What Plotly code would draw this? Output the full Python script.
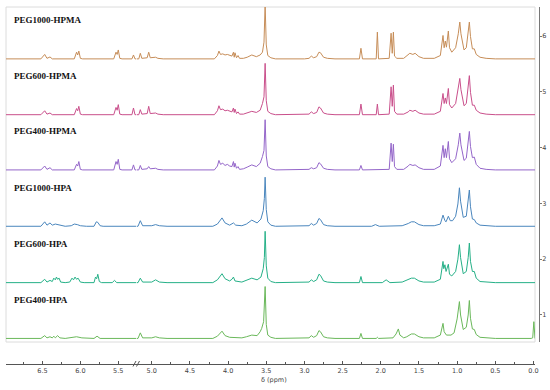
import plotly.graph_objects as go

# ---------------- data (ppm, intensity above each baseline) ----------------
labels = ["PEG1000-HPMA", "PEG600-HPMA", "PEG400-HPMA",
          "PEG1000-HPA", "PEG600-HPA", "PEG400-HPA"]
offsets = [5.59, 4.59, 3.60, 2.59, 1.58, 0.58]
right_ticks = [1, 2, 3, 4, 5, 6]

PEG1000_HPMA = [
    (6.98, 0), (6.52, 0), (6.47, 0.08), (6.44, 0.01), (6.40, 0.035), (6.37, 0),
    (6.08, 0), (6.05, 0.12), (6.035, 0.07), (6.02, 0.14), (6.00, 0.01), (5.97, 0),
    (5.56, 0), (5.53, 0.12), (5.515, 0.08), (5.50, 0.16), (5.48, 0.01), (5.45, 0),
    (5.32, 0), (5.30, 0.07), (5.28, 0), (5.265, 0),
    (5.2, 0), (5.17, 0), (5.15, 0.1), (5.13, 0.01), (5.06, 0.02), (5.04, 0.12), (5.02, 0.02),
    (4.97, 0.02), (4.95, 0.03), (4.92, 0.01), (4.85, 0),
    (4.18, 0), (4.14, 0.06), (4.12, 0.14), (4.10, 0.08), (4.07, 0.09), (4.04, 0.07), (4.01, 0.08),
    (3.98, 0.06), (3.95, 0.05), (3.93, 0.12), (3.92, 0.03), (3.91, 0.11), (3.89, 0.02),
    (3.87, 0.06), (3.85, 0.01), (3.80, 0.01),
    (3.75, 0.03), (3.69, 0.07), (3.63, 0.04), (3.58, 0.07), (3.55, 0.12), (3.53, 0.3),
    (3.515, 0.97), (3.50, 0.25), (3.48, 0.06), (3.44, 0.02), (3.38, 0),
    (3.0, 0), (2.94, 0.01), (2.91, 0.05), (2.88, 0.02), (2.84, 0.04), (2.81, 0.12), (2.79, 0.11),
    (2.75, 0.03), (2.70, 0.01), (2.6, 0),
    (2.28, 0), (2.26, 0.19), (2.24, 0),
    (2.06, 0), (2.045, 0.48), (2.03, 0),
    (1.89, 0.01), (1.865, 0.46), (1.85, 0.1), (1.835, 0.48), (1.82, 0.05), (1.79, 0.01),
    (1.70, 0.01), (1.64, 0.07), (1.62, 0.1), (1.58, 0.08), (1.55, 0.1), (1.50, 0.04), (1.44, 0.01),
    (1.30, 0.01), (1.22, 0.06), (1.185, 0.42), (1.17, 0.2), (1.155, 0.32), (1.14, 0.21),
    (1.115, 0.5), (1.10, 0.2), (1.07, 0.12), (1.02, 0.2), (0.985, 0.45), (0.965, 0.66),
    (0.95, 0.45), (0.91, 0.16), (0.88, 0.2), (0.855, 0.45), (0.84, 0.66), (0.825, 0.4),
    (0.80, 0.18), (0.775, 0.18), (0.75, 0.08), (0.70, 0.03), (0.62, 0.01), (0.5, 0), (-0.02, 0),
]

PEG600_HPMA = [
    (6.98, 0), (6.52, 0), (6.47, 0.07), (6.44, 0.01), (6.40, 0.03), (6.37, 0),
    (6.08, 0), (6.05, 0.11), (6.035, 0.07), (6.02, 0.15), (6.00, 0.01), (5.97, 0),
    (5.56, 0), (5.53, 0.13), (5.515, 0.08), (5.50, 0.18), (5.48, 0.01), (5.45, 0),
    (5.32, 0), (5.30, 0.12), (5.28, 0), (5.265, 0),
    (5.2, 0), (5.17, 0), (5.15, 0.09), (5.13, 0.01), (5.06, 0.02), (5.04, 0.15), (5.02, 0.02),
    (4.97, 0.02), (4.95, 0.03), (4.92, 0.01), (4.85, 0),
    (4.18, 0), (4.14, 0.07), (4.12, 0.16), (4.10, 0.09), (4.07, 0.1), (4.04, 0.07), (4.01, 0.08),
    (3.98, 0.06), (3.95, 0.05), (3.93, 0.12), (3.92, 0.04), (3.91, 0.1), (3.89, 0.02),
    (3.87, 0.05), (3.85, 0.01), (3.80, 0.01),
    (3.75, 0.03), (3.69, 0.06), (3.63, 0.04), (3.58, 0.08), (3.55, 0.2), (3.53, 0.32),
    (3.515, 0.92), (3.50, 0.25), (3.48, 0.06), (3.44, 0.02), (3.38, 0),
    (3.0, 0), (2.94, 0.01), (2.91, 0.05), (2.88, 0.02), (2.84, 0.04), (2.81, 0.14), (2.79, 0.12),
    (2.75, 0.03), (2.70, 0.01), (2.6, 0),
    (2.28, 0), (2.26, 0.19), (2.24, 0),
    (2.06, 0), (2.045, 0.19), (2.03, 0),
    (1.89, 0.01), (1.865, 0.5), (1.85, 0.15), (1.835, 0.53), (1.82, 0.06), (1.79, 0.01),
    (1.70, 0.01), (1.64, 0.05), (1.62, 0.08), (1.58, 0.06), (1.55, 0.08), (1.50, 0.03), (1.44, 0.01),
    (1.30, 0.01), (1.22, 0.06), (1.185, 0.38), (1.17, 0.2), (1.155, 0.3), (1.14, 0.2),
    (1.115, 0.47), (1.10, 0.18), (1.07, 0.12), (1.02, 0.2), (0.985, 0.45), (0.965, 0.65),
    (0.95, 0.45), (0.91, 0.16), (0.88, 0.2), (0.855, 0.48), (0.84, 0.70), (0.825, 0.4),
    (0.80, 0.17), (0.775, 0.17), (0.75, 0.08), (0.70, 0.03), (0.62, 0.01), (0.5, 0), (-0.02, 0),
]

PEG400_HPMA = [
    (6.98, 0), (6.52, 0), (6.47, 0.07), (6.44, 0.01), (6.40, 0.04), (6.37, 0),
    (6.08, 0), (6.05, 0.1), (6.035, 0.07), (6.02, 0.15), (6.00, 0.01), (5.97, 0),
    (5.56, 0), (5.53, 0.15), (5.515, 0.1), (5.50, 0.19), (5.48, 0.01), (5.45, 0),
    (5.32, 0), (5.30, 0.09), (5.28, 0), (5.265, 0),
    (5.2, 0), (5.17, 0), (5.15, 0.08), (5.13, 0.01), (5.06, 0.02), (5.04, 0.06), (5.02, 0.02),
    (4.97, 0.02), (4.95, 0.03), (4.92, 0.01), (4.85, 0),
    (4.18, 0), (4.14, 0.07), (4.12, 0.17), (4.10, 0.1), (4.07, 0.12), (4.04, 0.08), (4.01, 0.1),
    (3.98, 0.07), (3.95, 0.06), (3.93, 0.15), (3.92, 0.05), (3.91, 0.12), (3.89, 0.03),
    (3.87, 0.06), (3.85, 0.01), (3.80, 0.02),
    (3.75, 0.05), (3.69, 0.09), (3.63, 0.06), (3.58, 0.12), (3.55, 0.24), (3.53, 0.35),
    (3.515, 0.9), (3.50, 0.25), (3.48, 0.06), (3.44, 0.02), (3.38, 0),
    (3.0, 0), (2.94, 0.01), (2.91, 0.04), (2.88, 0.02), (2.84, 0.04), (2.81, 0.13), (2.79, 0.11),
    (2.75, 0.03), (2.70, 0.01), (2.6, 0),
    (2.28, 0), (2.26, 0.08), (2.24, 0),
    (1.89, 0.01), (1.865, 0.48), (1.85, 0.15), (1.835, 0.46), (1.82, 0.06), (1.79, 0.01),
    (1.70, 0.01), (1.64, 0.07), (1.62, 0.1), (1.58, 0.08), (1.55, 0.09), (1.50, 0.04), (1.44, 0.01),
    (1.30, 0.01), (1.22, 0.07), (1.185, 0.44), (1.17, 0.22), (1.155, 0.38), (1.14, 0.22),
    (1.115, 0.51), (1.10, 0.2), (1.07, 0.13), (1.02, 0.2), (0.985, 0.45), (0.965, 0.66),
    (0.95, 0.45), (0.91, 0.17), (0.88, 0.21), (0.855, 0.48), (0.84, 0.69), (0.825, 0.42),
    (0.80, 0.22), (0.775, 0.23), (0.75, 0.1), (0.70, 0.03), (0.62, 0.01), (0.5, 0), (-0.02, 0),
]

PEG1000_HPA = [
    (6.98, 0), (6.52, 0), (6.47, 0.08), (6.44, 0.02), (6.40, 0.06), (6.37, 0.02), (6.33, 0.04),
    (6.30, 0.03), (6.26, 0.01), (6.2, 0),
    (6.12, 0.01), (6.08, 0.04), (6.04, 0.03), (6.0, 0.01), (5.92, 0),
    (5.82, 0), (5.79, 0.08), (5.77, 0.07), (5.74, 0.01), (5.7, 0), (5.265, 0),
    (5.2, 0), (5.18, 0), (5.15, 0.1), (5.12, 0.01), (5.0, 0.01), (4.95, 0.03), (4.9, 0.01), (4.8, 0),
    (4.2, 0), (4.14, 0.04), (4.08, 0.15), (4.04, 0.06), (3.98, 0.02), (3.93, 0.06), (3.90, 0.02),
    (3.82, 0.01),
    (3.76, 0.04), (3.69, 0.11), (3.62, 0.06), (3.57, 0.13), (3.54, 0.28), (3.525, 0.5),
    (3.515, 0.88), (3.50, 0.3), (3.48, 0.08), (3.44, 0.02), (3.38, 0),
    (3.0, 0), (2.94, 0.01), (2.91, 0.05), (2.88, 0.02), (2.84, 0.05), (2.81, 0.14), (2.79, 0.12),
    (2.75, 0.03), (2.70, 0.01), (2.6, 0),
    (2.12, 0), (2.07, 0.03), (2.02, 0),
    (1.72, 0.01), (1.64, 0.05), (1.60, 0.08), (1.56, 0.08), (1.50, 0.03), (1.44, 0.01),
    (1.30, 0.01), (1.22, 0.04), (1.185, 0.2), (1.16, 0.1), (1.145, 0.08), (1.115, 0.18),
    (1.09, 0.1), (1.06, 0.1), (1.02, 0.18), (0.99, 0.4), (0.97, 0.69), (0.955, 0.45),
    (0.92, 0.16), (0.88, 0.18), (0.855, 0.42), (0.84, 0.65), (0.825, 0.35), (0.80, 0.13),
    (0.775, 0.12), (0.75, 0.06), (0.70, 0.02), (0.62, 0.01), (0.5, 0), (-0.02, 0),
]

PEG600_HPA = [
    (6.98, 0), (6.52, 0), (6.47, 0.06), (6.44, 0.01), (6.40, 0.04), (6.37, 0.02), (6.35, 0.08),
    (6.33, 0.05), (6.315, 0.1), (6.30, 0.06), (6.28, 0.08), (6.26, 0.01), (6.2, 0),
    (6.14, 0.01), (6.11, 0.08), (6.09, 0.05), (6.07, 0.1), (6.05, 0.06), (6.03, 0.08),
    (6.0, 0.01), (5.95, 0),
    (5.82, 0), (5.80, 0.1), (5.785, 0.07), (5.77, 0.15), (5.75, 0.02), (5.72, 0),
    (5.58, 0), (5.55, 0.04), (5.52, 0), (5.265, 0),
    (5.2, 0), (5.18, 0), (5.15, 0.08), (5.12, 0.01), (5.0, 0.01), (4.95, 0.05), (4.9, 0.01), (4.8, 0),
    (4.2, 0), (4.14, 0.05), (4.08, 0.16), (4.04, 0.07), (3.98, 0.03), (3.95, 0.06), (3.93, 0.1),
    (3.91, 0.03), (3.82, 0.01),
    (3.76, 0.04), (3.69, 0.08), (3.62, 0.05), (3.57, 0.1), (3.54, 0.25), (3.525, 0.45),
    (3.515, 0.92), (3.50, 0.3), (3.48, 0.08), (3.44, 0.02), (3.38, 0),
    (3.0, 0), (2.94, 0.01), (2.91, 0.05), (2.88, 0.02), (2.84, 0.05), (2.81, 0.15), (2.79, 0.13),
    (2.75, 0.03), (2.70, 0.01), (2.6, 0),
    (2.28, 0), (2.26, 0.11), (2.24, 0),
    (1.98, 0), (1.93, 0.05), (1.88, 0),
    (1.72, 0.01), (1.64, 0.06), (1.60, 0.08), (1.56, 0.08), (1.50, 0.03), (1.44, 0.01),
    (1.30, 0.01), (1.22, 0.06), (1.185, 0.38), (1.175, 0.25), (1.16, 0.32), (1.145, 0.2),
    (1.115, 0.33), (1.10, 0.15), (1.07, 0.12), (1.02, 0.2), (0.99, 0.42), (0.97, 0.68),
    (0.955, 0.45), (0.92, 0.16), (0.88, 0.2), (0.855, 0.45), (0.84, 0.71), (0.825, 0.38),
    (0.80, 0.2), (0.775, 0.2), (0.75, 0.08), (0.70, 0.02), (0.62, 0.01), (0.5, 0), (-0.02, 0),
]

PEG400_HPA = [
    (6.98, 0), (6.52, 0), (6.47, 0.05), (6.44, 0.01), (6.40, 0.03), (6.37, 0.01), (6.35, 0.04),
    (6.33, 0.01), (6.30, 0.05), (6.27, 0.01), (6.2, 0),
    (6.12, 0.01), (6.05, 0.03), (5.98, 0.01), (5.9, 0),
    (5.82, 0), (5.78, 0.04), (5.74, 0), (5.265, 0),
    (5.2, 0), (5.18, 0), (5.15, 0.1), (5.12, 0.01), (5.0, 0.01), (4.95, 0.03), (4.9, 0.01), (4.8, 0),
    (4.2, 0), (4.14, 0.04), (4.08, 0.13), (4.04, 0.05), (3.98, 0.02), (3.90, 0.01), (3.82, 0.01),
    (3.76, 0.03), (3.69, 0.06), (3.62, 0.05), (3.58, 0.12), (3.56, 0.18), (3.535, 0.3),
    (3.515, 0.93), (3.50, 0.25), (3.48, 0.06), (3.44, 0.02), (3.38, 0),
    (3.0, 0), (2.94, 0.01), (2.91, 0.05), (2.88, 0.02), (2.84, 0.05), (2.81, 0.14), (2.79, 0.12),
    (2.75, 0.03), (2.70, 0.01), (2.6, 0),
    (2.28, 0), (2.26, 0.09), (2.24, 0),
    (2.06, 0), (2.045, 0.02), (2.03, 0),
    (1.84, 0.01), (1.80, 0.08), (1.77, 0.17), (1.75, 0.06), (1.70, 0.01),
    (1.66, 0.03), (1.60, 0.08), (1.56, 0.08), (1.50, 0.03), (1.44, 0.01),
    (1.30, 0.01), (1.22, 0.06), (1.185, 0.27), (1.17, 0.12), (1.14, 0.06), (1.115, 0.06),
    (1.08, 0.06), (1.04, 0.1), (1.00, 0.35), (0.97, 0.66), (0.955, 0.42), (0.92, 0.16),
    (0.88, 0.2), (0.855, 0.42), (0.84, 0.68), (0.825, 0.36), (0.80, 0.17), (0.775, 0.16),
    (0.75, 0.07), (0.70, 0.02), (0.62, 0.01), (0.5, 0), (0.03, 0), (0.01, 0.01),
    (-0.005, 0.3), (-0.012, 0), (-0.02, 0),
]

spectra = [PEG1000_HPMA, PEG600_HPMA, PEG400_HPMA, PEG1000_HPA, PEG600_HPA, PEG400_HPA]
colors = ["#c68d58", "#c94f8b", "#9466c9", "#4a86bd", "#25b087", "#6ab85a"]

# ---------------- figure ----------------
W, H = 550, 390
ML, MR, MT, MB = 6, 11, 7, 26
PW, PH = W - ML - MR, H - MT - MB


def px_x(px):
    return (px - ML) / PW


def px_y(py):
    return (H - MB - py) / PH


BREAK_PX = 136.5
frame_right = px_x(535)
frame_bottom = px_y(342)
LEFT_RANGE = [6.98, 5.26]
RIGHT_RANGE = [5.20, -0.02]

fig = go.Figure()
for spec, off, col in zip(spectra, offsets, colors):
    left = [(p, h) for p, h in spec if p >= LEFT_RANGE[1]]
    right = [(p, h) for p, h in spec if p <= RIGHT_RANGE[0]]
    for pts, xa in ((left, "x"), (right, "x2")):
        fig.add_trace(go.Scatter(
            x=[p for p, _ in pts], y=[h + off for _, h in pts],
            xaxis=xa, yaxis="y", mode="lines",
            line=dict(color=col, width=1), hoverinfo="skip", showlegend=False))

tickfont = dict(family="DejaVu Sans, Verdana, sans-serif", size=6.5, color="#444")
xcommon = dict(anchor="free", position=0, showline=True, linecolor="#555", linewidth=1,
               ticks="inside", ticklen=3, tickcolor="#555", dtick=0.5, tick0=0,
               tickformat=".1f", tickfont=tickfont, showgrid=False, zeroline=False,
               automargin=False, ticklabelstandoff=0,
               minor=dict(dtick=0.25, tick0=0, ticks="inside", ticklen=2, tickcolor="#555",
                          showgrid=False))

fig.update_layout(
    template="none",
    width=W, height=H,
    margin=dict(l=ML, r=MR, t=MT, b=MB, pad=0, autoexpand=False),
    paper_bgcolor="white", plot_bgcolor="white",
    xaxis=dict(domain=[0, px_x(BREAK_PX)], range=LEFT_RANGE, **xcommon),
    xaxis2=dict(domain=[px_x(BREAK_PX), frame_right], range=RIGHT_RANGE, **xcommon),
    yaxis=dict(domain=[frame_bottom, 1], range=[0.516, 6.52], side="right",
               anchor="free", position=1, showline=True, linecolor="#777", linewidth=1,
               ticks="outside", ticklen=2, tickcolor="#777", tickvals=right_ticks,
               tickfont=tickfont, showgrid=False, zeroline=False, automargin=False,
               ticklabelstandoff=-1),
    showlegend=False,
    hovermode=False,
)

# light frame around the stacked spectra
fig.add_shape(type="rect", xref="paper", yref="paper", x0=0, x1=frame_right,
              y0=frame_bottom, y1=1, line=dict(color="#dcdcdc", width=1), layer="below")

# axis break marks
for dx in (0, 3.5):
    fig.add_shape(type="line", xref="paper", yref="paper",
                  x0=px_x(133 + dx), y0=px_y(366.5), x1=px_x(136 + dx), y1=px_y(361),
                  line=dict(color="#555", width=1))

# spectrum labels
for lab, off in zip(labels, offsets):
    fig.add_annotation(x=px_x(12), xref="paper", y=off + 0.69, yref="y",
                       text="<b>" + lab + "</b>", showarrow=False, xanchor="left",
                       yanchor="middle",
                       font=dict(family="Liberation Serif, Times New Roman, serif",
                                 size=9, color="#111"))

# axis title
fig.add_annotation(x=px_x(274), y=px_y(380), xref="paper", yref="paper",
                   text="δ (ppm)", showarrow=False, xanchor="center", yanchor="middle",
                   font=tickfont)

fig.write_html("out.html", config={"displayModeBar": False},
               post_script="document.body.style.margin='0px';")
